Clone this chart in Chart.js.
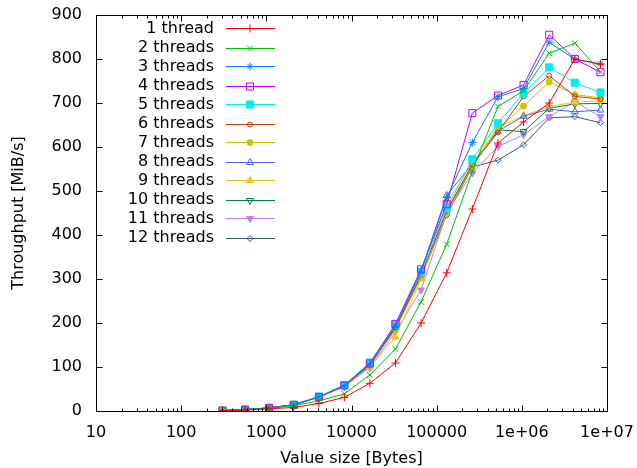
<!DOCTYPE html>
<html>
<head>
<meta charset="utf-8">
<script src="https://cdn.jsdelivr.net/npm/chart.js@4.4.1/dist/chart.umd.min.js"></script>
<style>
  body { margin: 0; background: #fff; }
</style>
</head>
<body>
<canvas id="throughput" width="637" height="468"></canvas>
<script>
// value sizes in bytes (x axis, log scale)
const sizes = [306, 562, 1074, 2098, 4146, 8242, 16434, 32818, 65586, 131122,
  262194, 524338, 1048626, 2097202, 4194354, 8388658];

// throughput in MiB/s, one array per thread count
const threads1  = [1, 2, 5, 8, 17, 31, 63, 109, 200, 314, 459, 609, 657, 700, 800, 788];
const threads2  = [1, 3, 6, 12, 23, 39, 82, 141, 248, 379, 545, 692, 728, 813, 836, 771];
const threads3  = [1, 3, 7, 14, 32, 57, 105, 192, 318, 485, 610, 714, 733, 838, 799, 789];
const threads4  = [1, 3, 7, 14, 32, 58, 108, 198, 322, 470, 677, 717, 741, 855, 800, 770];
const threads5  = [1, 3, 7, 14, 33, 59, 110, 196, 315, 460, 572, 654, 722, 781, 746, 724];
const threads6  = [1, 3, 7, 14, 32, 58, 106, 190, 310, 455, 560, 633, 715, 762, 715, 709];
const threads7  = [1, 3, 7, 14, 32, 57, 105, 185, 305, 450, 557, 642, 693, 748, 719, 712];
const threads8  = [1, 3, 7, 14, 32, 58, 106, 193, 318, 490, 562, 636, 670, 686, 680, 684];
const threads9  = [1, 3, 7, 14, 31, 55, 100, 168, 300, 473, 562, 645, 671, 692, 702, 705];
const threads10 = [1, 3, 7, 14, 32, 57, 104, 188, 308, 455, 558, 639, 635, 688, 698, 699];
const threads11 = [1, 3, 7, 14, 31, 55, 98, 180, 275, 450, 541, 601, 628, 669, 703, 669];
const threads12 = [1, 3, 7, 14, 32, 57, 103, 187, 305, 445, 555, 570, 605, 666, 669, 655];

const labels = ['1 thread', '2 threads', '3 threads', '4 threads', '5 threads', '6 threads',
  '7 threads', '8 threads', '9 threads', '10 threads', '11 threads', '12 threads'];
const series = [threads1, threads2, threads3, threads4, threads5, threads6,
  threads7, threads8, threads9, threads10, threads11, threads12];

const xTicks = [10, 100, 1000, 10000, 100000, 1e6, 1e7];
const yTicks = [0, 100, 200, 300, 400, 500, 600, 700, 800, 900];

// gnuplot-like colours and point types
const colors = ['#ff0000', '#00c000', '#0080ff', '#c000ff', '#00eeee', '#c04000',
  '#c8c800', '#4169e1', '#ffc020', '#008040', '#c080ff', '#306080'];
const markers = [
  {style: 'cross', radius: 4, fill: false},
  {style: 'crossRot', radius: 4, fill: false},
  {style: 'star', radius: 4, fill: false},
  {style: 'rect', radius: 5, fill: false},
  {style: 'rect', radius: 5, fill: true},
  {style: 'circle', radius: 2.5, fill: false},
  {style: 'circle', radius: 3, fill: true},
  {style: 'triangle', radius: 4, fill: false},
  {style: 'triangle', radius: 4, fill: true},
  {style: 'triangle', radius: 4, fill: false, rotation: 180},
  {style: 'triangle', radius: 4, fill: true, rotation: 180},
  {style: 'rectRot', radius: 3, fill: false}
];

const FONT = 16;
Chart.defaults.font.family = '"DejaVu Sans", sans-serif';
Chart.defaults.color = '#000';

const datasets = series.map((vals, i) => ({
  label: labels[i],
  data: vals.map((v, j) => ({x: sizes[j], y: v})),
  borderColor: colors[i],
  backgroundColor: markers[i].fill ? colors[i] : 'rgba(0,0,0,0)',
  borderWidth: 1,
  pointStyle: markers[i].style,
  pointRadius: markers[i].radius,
  pointRotation: markers[i].rotation || 0,
  pointBorderWidth: 1,
  pointBorderColor: colors[i],
  pointBackgroundColor: markers[i].fill ? colors[i] : 'rgba(0,0,0,0)',
  tension: 0
}));

function fmtSize(v) {
  if (v >= 1e6) return '1e+0' + Math.round(Math.log10(v));
  return String(v);
}

// box around the plot with inward ticks on all four sides
const frame = {
  id: 'frame',
  afterDatasetsDraw(chart) {
    const {ctx, chartArea: a, scales} = chart;
    ctx.save();
    ctx.strokeStyle = '#000';
    ctx.lineWidth = 1;
    ctx.beginPath();
    const L = Math.round(a.left) + 0.5, R = Math.round(a.right) + 0.5;
    const T = Math.round(a.top) + 0.5, B = Math.round(a.bottom) + 0.5;
    ctx.rect(L, T, R - L, B - T);
    yTicks.forEach(v => {
      const y = Math.round(scales.y.getPixelForValue(v)) + 0.5;
      ctx.moveTo(L, y); ctx.lineTo(L + 6, y);
      ctx.moveTo(R, y); ctx.lineTo(R - 6, y);
    });
    for (let d = 10; d <= 1e7; d *= 10) {
      for (let k = 1; k <= 9; k++) {
        const v = d * k;
        if (v > 1e7) break;
        const x = Math.round(scales.x.getPixelForValue(v)) + 0.5;
        const len = k === 1 ? 6 : 3;
        ctx.moveTo(x, B); ctx.lineTo(x, B - len);
        ctx.moveTo(x, T); ctx.lineTo(x, T + len);
      }
    }
    ctx.stroke();
    ctx.restore();
  }
};

// gnuplot style key: right aligned text, then line sample with the point
const key = {
  id: 'key',
  afterDraw(chart) {
    const {ctx} = chart;
    ctx.save();
    ctx.font = FONT + 'px "DejaVu Sans", sans-serif';
    ctx.textAlign = 'right';
    ctx.textBaseline = 'middle';
    chart.data.datasets.forEach((ds, i) => {
      const y = 29 + i * 19;
      const ly = 2 * Math.floor(y / 2) + 0.5;
      ctx.fillStyle = '#000';
      ctx.fillText(ds.label, 214, y);
      ctx.strokeStyle = colors[i];
      ctx.lineWidth = 1;
      ctx.beginPath();
      ctx.moveTo(226, ly);
      ctx.lineTo(275, ly);
      ctx.stroke();
      ctx.fillStyle = ds.pointBackgroundColor;
      Chart.helpers.drawPoint(ctx, {
        pointStyle: ds.pointStyle,
        radius: ds.pointRadius,
        rotation: ds.pointRotation,
        borderWidth: 1
      }, 250, ly);
    });
    ctx.restore();
  }
};

new Chart(document.getElementById('throughput'), {
  type: 'line',
  data: {datasets: datasets},
  options: {
    responsive: false,
    animation: false,
    layout: {padding: {top: 15, right: 30, left: 0, bottom: 0}},
    plugins: {
      legend: {display: false},
      tooltip: {enabled: false}
    },
    scales: {
      x: {
        type: 'logarithmic',
        min: 10,
        max: 1e7,
        grid: {display: false, drawTicks: false},
        border: {display: false},
        afterBuildTicks: scale => { scale.ticks = xTicks.map(v => ({value: v})); },
        afterFit: scale => {
          scale.height = 57;
          scale.paddingLeft = 0;
          scale.paddingRight = 0;
        },
        ticks: {
          autoSkip: false,
          maxRotation: 0,
          padding: 12,
          font: {size: FONT},
          callback: v => fmtSize(v)
        },
        title: {
          display: true,
          text: 'Value size [Bytes]',
          font: {size: FONT},
          padding: {top: 0, bottom: 0}
        }
      },
      y: {
        min: 0,
        max: 900,
        grid: {display: false, drawTicks: false},
        border: {display: false},
        afterBuildTicks: scale => { scale.ticks = yTicks.map(v => ({value: v})); },
        afterFit: scale => {
          scale.width = 96;
          scale.paddingTop = 0;
          scale.paddingBottom = 0;
        },
        ticks: {
          padding: 14,
          font: {size: FONT}
        },
        title: {
          display: true,
          text: 'Throughput [MiB/s]',
          font: {size: FONT},
          padding: {top: 9, bottom: 0}
        }
      }
    }
  },
  plugins: [frame, key]
});
</script>
</body>
</html>
